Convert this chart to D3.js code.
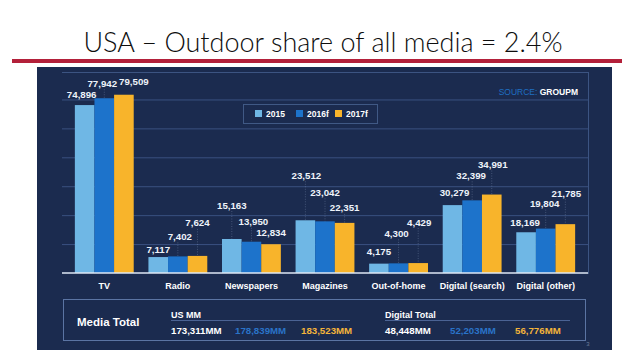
<!DOCTYPE html>
<html>
<head>
<meta charset="utf-8">
<script src="https://cdn.jsdelivr.net/npm/d3@7"></script>
<style>
  html, body { margin: 0; padding: 0; background: #ffffff; }
  svg { display: block; }
  .lbl { font-family: "Liberation Sans", Arial, sans-serif; font-weight: bold; }
</style>
</head>
<body>
<svg id="chart" width="640" height="360"></svg>
<script>
// chart data
const categories = ["TV", "Radio", "Newspapers", "Magazines", "Out-of-home", "Digital (search)", "Digital (other)"];
const years = ["2015", "2016f", "2017f"];
const spend2015 = [74896, 7117, 15163, 23512, 4175, 30279, 18169];
const spend2016 = [77942, 7402, 13950, 23042, 4300, 32399, 19804];
const spend2017 = [79509, 7624, 12834, 22351, 4429, 34991, 21785];
const gridTicks = [12900, 25800, 38700, 51600, 64500, 77400];
const mediaTotals = ["173,311MM", "178,839MM", "183,523MM"];
const digitalTotals = ["48,448MM", "52,203MM", "56,776MM"];

// label stagger (px above bar top) and sideways nudge, per category / year
const labelLift = [[11, 15, 13], [8, 20, 33], [34, 20, 12], [45, 29, 15], [12, 30, 41], [13, 25, 30], [10, 25, 31]];
const labelNudge = [[-3, -2, 10], [0, 2, 0], [0, 2, 0], [1, 0, 0], [0, -2, 1], [2, -1, 1], [-1, -1, 1]];

const colors = ["#6fb7e5", "#1d73cb", "#f8b42b"];
const totalColors = ["#ffffff", "#2a73c8", "#f3b43a"];
const series = [spend2015, spend2016, spend2017];

const svg = d3.select("#chart");

// Title
svg.append("text")
  .attr("x", 323).attr("y", 52)
  .attr("text-anchor", "middle")
  .style("font-family", "Lato, 'Open Sans', sans-serif")
  .style("font-weight", 300)
  .style("font-size", "27px")
  .attr("fill", "#0e0e0e")
  .text("USA \u2013 Outdoor share of all media = 2.4%");

// red rule under title
svg.append("rect").attr("x", 12).attr("y", 59).attr("width", 610).attr("height", 4).attr("fill", "#b3203a");

// navy panel
svg.append("rect").attr("x", 37).attr("y", 67).attr("width", 575).attr("height", 283).attr("fill", "#1b2b4f");

// inner frame lines
svg.append("line").attr("x1", 62).attr("x2", 588).attr("y1", 72.5).attr("y2", 72.5)
  .attr("stroke", "#3c5482").attr("stroke-width", 1);
svg.append("line").attr("x1", 588.5).attr("x2", 588.5).attr("y1", 72).attr("y2", 274)
  .attr("stroke", "#3c5482").attr("stroke-width", 1);

// scales
const x0 = d3.scaleBand().domain(categories).range([67.5, 582.5]).paddingInner(0.2).paddingOuter(0.1);
const x1 = d3.scaleBand().domain(years).range([0, x0.bandwidth()]);
const y = d3.scaleLinear().domain([0, 90000]).range([273, 273 - 90000 / 446]);

// gridlines
svg.append("g")
  .attr("transform", "translate(62,0)")
  .call(d3.axisLeft(y).tickValues(gridTicks).tickSize(-526).tickFormat(""))
  .call(g => g.select(".domain").remove())
  .call(g => g.selectAll(".tick line").attr("stroke", "#3a5180").attr("stroke-width", 1));

// SOURCE
const src = svg.append("text").attr("class", "lbl").attr("x", 578).attr("y", 95)
  .attr("text-anchor", "end").style("font-size", "8.5px");
src.append("tspan").attr("fill", "#1f6fc2").style("font-weight", "normal").text("SOURCE: ");
src.append("tspan").attr("fill", "#ffffff").text("GROUPM");

// legend
svg.append("rect").attr("x", 243.5).attr("y", 104.5).attr("width", 134).attr("height", 19)
  .attr("fill", "#1b2b4f").attr("stroke", "#405985").attr("stroke-width", 1);
const legX = [255, 296, 335];
years.forEach((yr, i) => {
  svg.append("rect").attr("x", legX[i]).attr("y", 110).attr("width", 7).attr("height", 7).attr("fill", colors[i]);
  svg.append("text").attr("class", "lbl").attr("x", legX[i] + 11).attr("y", 116.5)
    .style("font-size", "8.5px").attr("fill", "#ffffff").text(yr);
});

// bars
const groups = svg.append("g").selectAll("g").data(categories).join("g")
  .attr("transform", d => `translate(${x0(d)},0)`);

const cells = (c, ci) => years.map((yr, si) => ({ yr, si, ci, v: series[si][ci] }));

groups.selectAll("rect")
  .data(cells)
  .join("rect")
  .attr("x", d => x1(d.yr))
  .attr("width", x1.bandwidth())
  .attr("y", d => y(d.v))
  .attr("height", d => y(0) - y(d.v))
  .attr("fill", d => colors[d.si]);

// leader lines
groups.selectAll("line.lead")
  .data((c, ci) => cells(c, ci).filter(d => labelLift[d.ci][d.si] > 14))
  .join("line").attr("class", "lead")
  .attr("x1", d => x1(d.yr) + x1.bandwidth() / 2)
  .attr("x2", d => x1(d.yr) + x1.bandwidth() / 2)
  .attr("y1", d => y(d.v) - labelLift[d.ci][d.si] + 6)
  .attr("y2", d => y(d.v))
  .attr("stroke", "#9fb3d3").attr("stroke-opacity", 0.45)
  .attr("stroke-width", 0.7).attr("stroke-dasharray", "1,1.5");

// value labels
groups.selectAll("text.val")
  .data(cells)
  .join("text").attr("class", "lbl val")
  .attr("x", d => x1(d.yr) + x1.bandwidth() / 2 + labelNudge[d.ci][d.si])
  .attr("y", d => y(d.v) - labelLift[d.ci][d.si] + 3.5)
  .attr("text-anchor", "middle")
  .style("font-size", "9.7px")
  .attr("fill", "#eef3fa")
  .text(d => d3.format(",")(d.v));

// baseline
svg.append("line").attr("x1", 62).attr("x2", 588).attr("y1", y(0)).attr("y2", y(0))
  .attr("stroke", "#dfe8f5").attr("stroke-width", 1.5);

// category labels
svg.append("g")
  .attr("transform", `translate(0,${y(0)})`)
  .call(d3.axisBottom(x0).tickSize(0).tickPadding(10))
  .call(g => g.select(".domain").remove())
  .call(g => g.selectAll("text").attr("class", "lbl").style("font-size", "9px").attr("fill", "#ffffff"));

// media total box
svg.append("rect").attr("x", 63.5).attr("y", 299.5).attr("width", 522).attr("height", 41)
  .attr("fill", "none").attr("stroke", "#5b74a3").attr("stroke-width", 1);
svg.append("text").attr("class", "lbl").attr("x", 77).attr("y", 326)
  .style("font-size", "11.5px").attr("fill", "#ffffff").text("Media Total");

const tableCols = [
  { head: "US MM", x: [171, 235, 301], vals: mediaTotals, line: [171, 350] },
  { head: "Digital Total", x: [385, 450, 515], vals: digitalTotals, line: [385, 570] }
];
tableCols.forEach(t => {
  svg.append("text").attr("class", "lbl").attr("x", t.x[0]).attr("y", 317.5)
    .style("font-size", "9px").attr("fill", "#ffffff").text(t.head);
  svg.append("line").attr("x1", t.line[0]).attr("x2", t.line[1]).attr("y1", 320.5).attr("y2", 320.5)
    .attr("stroke", "#4b6394").attr("stroke-width", 1);
  t.vals.forEach((v, i) => {
    svg.append("text").attr("class", "lbl").attr("x", t.x[i]).attr("y", 333.5)
      .style("font-size", "9.7px").attr("fill", totalColors[i])
      .text(v);
  });
});

// page number
svg.append("text").attr("x", 588).attr("y", 346).attr("text-anchor", "middle")
  .style("font-family", "Liberation Sans, Arial, sans-serif").style("font-size", "6px")
  .attr("fill", "#6c7c99").text("3");
</script>
</body>
</html>
